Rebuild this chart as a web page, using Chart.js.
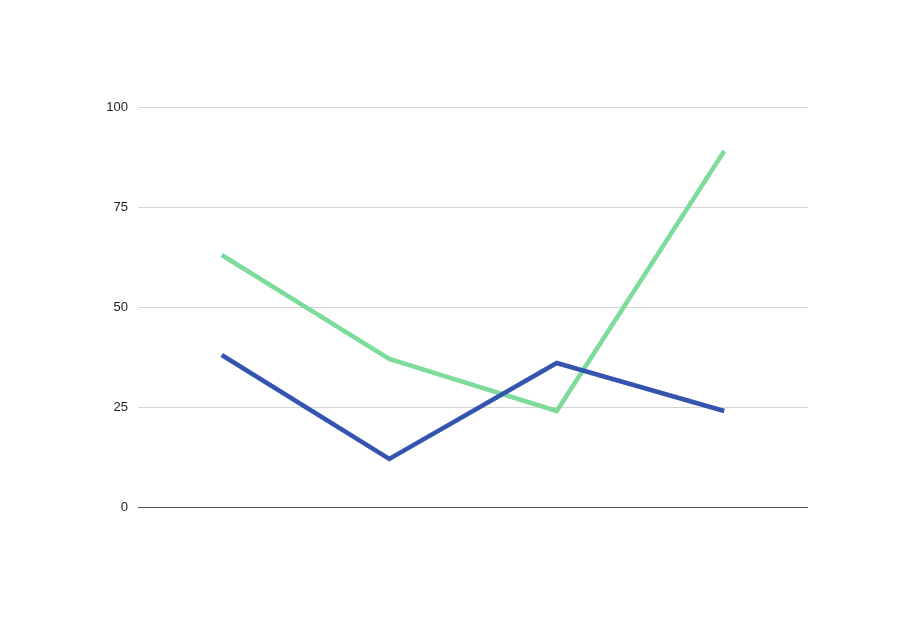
<!DOCTYPE html>
<html>
<head>
<meta charset="utf-8">
<script src="https://cdn.jsdelivr.net/npm/chart.js@4/dist/chart.umd.min.js"></script>
<style>
  html, body { margin: 0; padding: 0; background: #fff; }
  #wrap { width: 914px; height: 619px; position: relative; }
</style>
</head>
<body>
<div id="wrap"><canvas id="chart"></canvas></div>
<script>
// categories have no visible labels in the reference
const categories = ['A', 'B', 'C', 'D'];
const seriesBlue = [38, 12, 36, 24];
const seriesGreen = [63, 37, 24, 89];
const yTicks = [0, 25, 50, 75, 100];

const ctx = document.getElementById('chart').getContext('2d');
new Chart(ctx, {
  type: 'line',
  data: {
    labels: categories,
    datasets: [
      { label: 'Series 1', data: seriesBlue, borderColor: '#3355b0', borderWidth: 4.5, pointRadius: 0, tension: 0, fill: false },
      { label: 'Series 2', data: seriesGreen, borderColor: '#7ddc9b', borderWidth: 4.5, pointRadius: 0, tension: 0, fill: false }
    ]
  },
  options: {
    responsive: true,
    maintainAspectRatio: false,
    animation: false,
    layout: { padding: { top: 107, bottom: 112, right: 106, left: 0 } },
    plugins: { legend: { display: false }, tooltip: { enabled: false } },
    scales: {
      x: { display: false, offset: true },
      y: {
        min: 0, max: 100,
        afterFit: s => { s.width = 138; },
        afterBuildTicks: s => { s.ticks = yTicks.map(v => ({ value: v })); },
        border: { display: false },
        grid: {
          drawTicks: false,
          color: c => c.tick && c.tick.value === 0 ? '#555555' : '#d4d4d4',
          lineWidth: 1
        },
        ticks: { padding: 10, color: '#222', font: { family: 'Liberation Sans, Arial', size: 13 } }
      }
    }
  }
});
</script>
</body>
</html>
